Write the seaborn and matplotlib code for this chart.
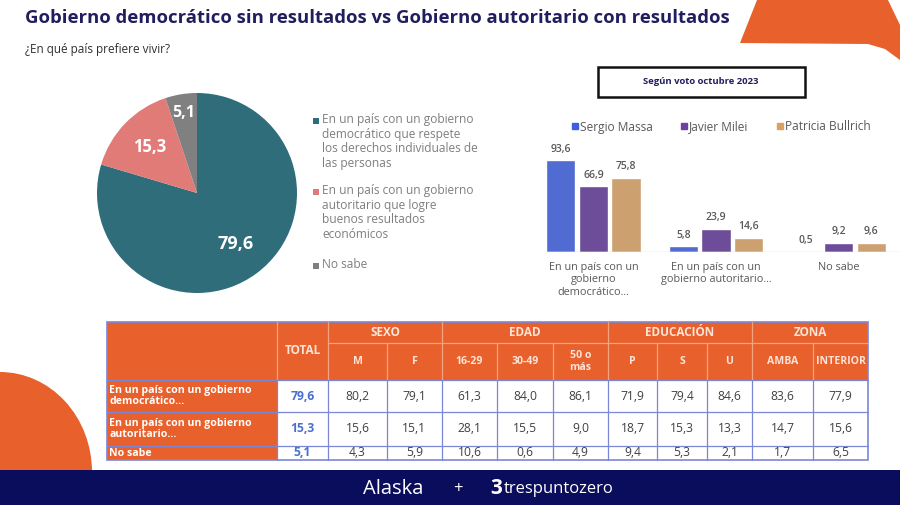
import numpy as np
import pandas as pd
import seaborn as sns
import matplotlib.pyplot as plt
from matplotlib.patches import Rectangle, Polygon, Ellipse
from matplotlib.lines import Line2D

sns.set_theme(style="white")
plt.rcParams['font.family'] = ['Open Sans', 'DejaVu Sans']

# --- datos ---
pie_labels = ["En un país con un gobierno\ndemocrático que respete\nlos derechos individuales de\nlas personas",
              "En un país con un gobierno\nautoritario que logre\nbuenos resultados\neconómicos",
              "No sabe"]
pie_values = [79.6, 15.3, 5.1]
pie_colors = ['#2f6d7a', '#e07b78', '#808080']

bar_categories = ["En un país con un\ngobierno\ndemocrático...",
                  "En un país con un\ngobierno autoritario...",
                  "No sabe"]
candidatos = ["Sergio Massa", "Javier Milei", "Patricia Bullrich"]
massa = [93.6, 5.8, 0.5]
milei = [66.9, 23.9, 9.2]
bullrich = [75.8, 14.6, 9.6]
cand_colors = ['#3b5ee6', '#6b3fa6', '#dca15f']

row_labels = ["En un país con un gobierno\ndemocrático...",
              "En un país con un gobierno\nautoritario...",
              "No sabe"]
groups = ["SEXO", "EDAD", "EDUCACIÓN", "ZONA"]
group_sizes = [2, 3, 3, 2]
sub_cols = ["M", "F", "16-29", "30-49", "50 o\nmás", "P", "S", "U", "AMBA", "INTERIOR"]
total = [79.6, 15.3, 5.1]
sexo_m = [80.2, 15.6, 4.3]
sexo_f = [79.1, 15.1, 5.9]
edad_16_29 = [61.3, 28.1, 10.6]
edad_30_49 = [84.0, 15.5, 0.6]
edad_50 = [86.1, 9.0, 4.9]
edu_p = [71.9, 18.7, 9.4]
edu_s = [79.4, 15.3, 5.3]
edu_u = [84.6, 13.3, 2.1]
zona_amba = [83.6, 14.7, 1.7]
zona_interior = [77.9, 15.6, 6.5]


def fmt(v):
    return f"{v:.1f}".replace('.', ',')


W, H = 900, 505
NAVY = '#211d5e'
ORANGE = '#e8612c'
GRIS = '#595959'
BORDE = '#7b86d6'


def px_box(x0, y0, x1, y1):
    return [x0 / W, 1 - y1 / H, (x1 - x0) / W, (y1 - y0) / H]


fig = plt.figure(figsize=(9, 5.05), dpi=100)
fig.patch.set_facecolor('white')

# fondo en coordenadas de pixel
bg = fig.add_axes([0, 0, 1, 1])
bg.set_xlim(0, W)
bg.set_ylim(H, 0)
bg.axis('off')

bg.add_patch(Polygon([(757, 0), (888, 0), (900, 25), (900, 60), (885, 49), (868, 44), (740, 43)],
                     closed=True, color=ORANGE, lw=0))
bg.add_patch(Ellipse((0, 472), 184, 200, color=ORANGE, lw=0))
bg.add_patch(Rectangle((0, 470), W, 35, color='#0a0c5c', lw=0, zorder=3))

bg.text(25, 18, "Gobierno democrático sin resultados vs Gobierno autoritario con resultados",
        fontsize=13.3, fontweight='bold', color=NAVY, va='center')
bg.text(25, 50, "¿En qué país prefiere vivir?", fontsize=8.5, color='#303030', va='center')

# footer
bg.text(393, 489, "Alaska", fontsize=14.5, color='white', ha='center', va='center', zorder=4)
bg.text(458, 489, "+", fontsize=12, color='white', ha='center', va='center', zorder=4)
bg.text(496, 489, "3", fontsize=15, color='white', ha='center', va='center', fontweight='bold', zorder=4)
bg.text(504, 489, "trespuntozero", fontsize=12, color='white', ha='left', va='center', zorder=4)

# recuadro "Según voto"
bg.add_patch(Rectangle((598, 67), 207, 30, fill=False, ec='#111111', lw=1.8))
bg.text(701, 82, "Según voto octubre 2023", fontsize=6.8, fontweight='bold', color=NAVY,
        ha='center', va='center')

# --- torta ---
ax_pie = fig.add_axes(px_box(97, 93, 297, 293))
wedges, _ = ax_pie.pie(pie_values, colors=pie_colors, startangle=90, counterclock=False,
                       wedgeprops=dict(linewidth=0))
ax_pie.set_aspect('equal')
ax_pie.set_xlim(-1, 1)
ax_pie.set_ylim(-1, 1)
for w, v, r, fs in zip(wedges, pie_values, [0.64, 0.66, 0.81], [13, 12, 11.5]):
    ang = np.deg2rad((w.theta1 + w.theta2) / 2)
    ax_pie.text(r * np.cos(ang), r * np.sin(ang), fmt(v), ha='center', va='center',
                color='white', fontsize=fs, fontweight='bold')

# leyenda torta
y_leg = [113, 184, 258]
for lab, col, y in zip(pie_labels, pie_colors, y_leg):
    bg.add_patch(Rectangle((313, y + 5), 6, 6, color=col, lw=0))
    bg.text(322, y, lab, fontsize=8.6, color='#7f7f7f', va='top', ha='left', linespacing=1.17)

# --- barras ---
df = pd.DataFrame({
    'categoria': bar_categories * 3,
    'candidato': [c for c in candidatos for _ in bar_categories],
    'valor': massa + milei + bullrich,
})
ax_bar = fig.add_axes(px_box(532, 154, 900, 252))
sns.barplot(data=df, x='categoria', y='valor', hue='candidato', hue_order=candidatos,
            palette=cand_colors, width=0.8, gap=0.1, legend=False, ax=ax_bar)
ax_bar.set_xlim(-0.5, 2.5)
ax_bar.set_ylim(0, 100)
for cont in ax_bar.containers:
    ax_bar.bar_label(cont, labels=[fmt(b.get_height()) for b in cont], padding=4,
                     fontsize=7.5, color=GRIS, fontweight='semibold')
sns.despine(ax=ax_bar, left=True, bottom=True, top=True, right=True)
ax_bar.axhline(0, xmin=0.04, xmax=1, color='#d9d9d9', lw=1)
ax_bar.set_yticks([])
ax_bar.set_xlabel('')
ax_bar.set_ylabel('')
ax_bar.tick_params(axis='x', length=0, pad=7)
for t in ax_bar.get_xticklabels():
    t.set_fontsize(7.8)
    t.set_color(GRIS)
    t.set_linespacing(1.2)

handles = [Line2D([0], [0], marker='s', ls='none', color=c, markersize=4.5) for c in cand_colors]
fig.legend(handles, candidatos, loc='center', bbox_to_anchor=(721 / W, 1 - 127 / H), ncol=3,
           frameon=False, fontsize=8.6, labelcolor=GRIS, handlelength=0.5, handletextpad=0.15,
           columnspacing=2.4)

# --- tabla ---
col_x = [107, 277, 328, 387, 442, 497, 553, 608, 657, 707, 752, 813, 868]
row_y = [322, 343, 380, 412, 446, 460]
data_cols = [total, sexo_m, sexo_f, edad_16_29, edad_30_49, edad_50,
             edu_p, edu_s, edu_u, zona_amba, zona_interior]
HDR_TXT = '#fde4d8'

# encabezado naranja
bg.add_patch(Rectangle((col_x[0], row_y[0]), col_x[-1] - col_x[0], row_y[2] - row_y[0],
                       color=ORANGE, lw=0))
# columna de etiquetas
bg.add_patch(Rectangle((col_x[0], row_y[2]), col_x[1] - col_x[0], row_y[-1] - row_y[2],
                       color=ORANGE, lw=0))
# celdas blancas
bg.add_patch(Rectangle((col_x[1], row_y[2]), col_x[-1] - col_x[1], row_y[-1] - row_y[2],
                       color='white', lw=0))

lk = dict(color=BORDE, lw=0.9)
bg.add_patch(Rectangle((col_x[0], row_y[0]), col_x[-1] - col_x[0], row_y[-1] - row_y[0],
                       fill=False, ec=BORDE, lw=1.2))
for y in row_y[2:-1]:
    bg.plot([col_x[0], col_x[-1]], [y, y], **lk)
bg.plot([col_x[2], col_x[-1]], [row_y[1], row_y[1]], color='#f4a27f', lw=0.9)
group_edges = [2]
for s in group_sizes:
    group_edges.append(group_edges[-1] + s)
for i, x in enumerate(col_x[1:-1], start=1):
    top = row_y[0] if i in group_edges or i == 1 else row_y[1]
    bg.plot([x, x], [top, row_y[2]], color='#f4a27f', lw=0.9)
    bg.plot([x, x], [row_y[2], row_y[-1]], **lk)

bg.text((col_x[1] + col_x[2]) / 2, (row_y[0] + row_y[2]) / 2, "TOTAL", ha='center', va='center',
        fontsize=8.5, fontweight='bold', color=HDR_TXT)
for g, a, b in zip(groups, group_edges[:-1], group_edges[1:]):
    bg.text((col_x[a] + col_x[b]) / 2, (row_y[0] + row_y[1]) / 2, g, ha='center', va='center',
            fontsize=8.5, fontweight='bold', color=HDR_TXT)
for j, sc in enumerate(sub_cols):
    bg.text((col_x[j + 2] + col_x[j + 3]) / 2, (row_y[1] + row_y[2]) / 2, sc, ha='center',
            va='center', fontsize=7.6, fontweight='bold', color=HDR_TXT, linespacing=1.05)

for i, lab in enumerate(row_labels):
    bg.text(col_x[0] + 2, (row_y[i + 2] + row_y[i + 3]) / 2, lab, ha='left', va='center',
            fontsize=7.6, fontweight='bold', color='white', linespacing=1.1)
    for j, col in enumerate(data_cols):
        bg.text((col_x[j + 1] + col_x[j + 2]) / 2, (row_y[i + 2] + row_y[i + 3]) / 2,
                fmt(col[i]), ha='center', va='center', fontsize=8.7,
                color='#4a6fd0' if j == 0 else '#404040',
                fontweight='bold' if j == 0 else 'normal')

fig.savefig('out.png', dpi=100)
